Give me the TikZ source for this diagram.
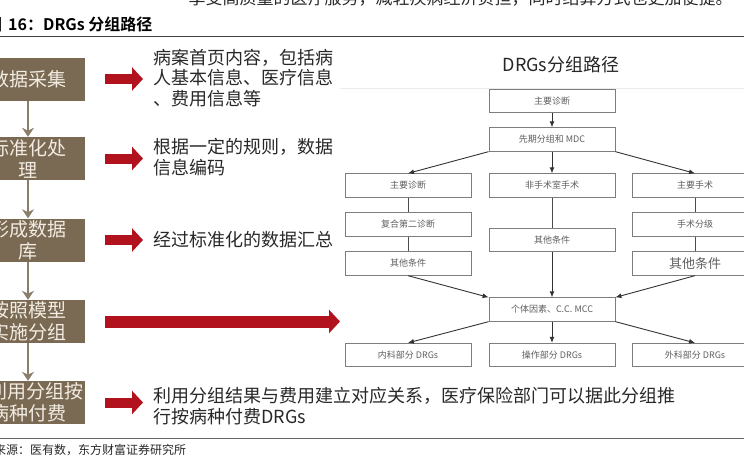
\documentclass[tikz,border=0pt]{standalone}
\usepackage{fontspec}
\usepackage{xcolor}
\usepackage{tikz}
\usetikzlibrary{arrows.meta, calc, positioning}
\newfontfamily\cjk{Noto Sans CJK SC}[BoldFont={Noto Sans CJK SC Bold}]
\definecolor{boxBrown}{RGB}{122,106,84}
\definecolor{boxText}{RGB}{242,236,226}
\definecolor{lineBrown}{RGB}{138,125,105}
\definecolor{arrowRed}{RGB}{178,18,30}
\definecolor{noteBlack}{RGB}{40,40,40}
\definecolor{drgGray}{RGB}{125,125,125}
\definecolor{drgText}{RGB}{95,95,95}

\begin{document}
\begin{tikzpicture}[
    x=1pt, y=-1pt,
    >=Stealth,
    % brown step box (left column)
    stepBox/.style={
        rectangle, fill=boxBrown, text=boxText,
        minimum width=114pt, minimum height=43pt,
        text width=80pt, align=center,
        font=\cjk\fontsize{19}{22}\selectfont, inner sep=0pt
    },
    % explanation text
    noteText/.style={
        anchor=west, align=left, text=noteBlack,
        font=\cjk\fontsize{18}{20.5}\selectfont, inner sep=0pt
    },
    % red block arrow
    redArrow/.style={
        draw=arrowRed, line width=10pt,
        -{Triangle[width=23pt, length=11pt]},
        shorten <=20pt, shorten >=10pt
    },
    % brown arrow between steps
    flowArrow/.style={
        draw=lineBrown, line width=2.6pt,
        -{Stealth[width=12pt, length=9pt]}
    },
    % boxes of the grouping chart
    drgBox/.style={
        rectangle, draw=drgGray, fill=white, line width=0.8pt,
        minimum width=126pt, minimum height=23.5pt,
        font=\cjk\fontsize{9}{10}\selectfont, text=drgText, inner sep=0pt
    },
    drgLine/.style={draw=black!70, line width=0.8pt},
    drgArrow/.style={
        draw=black!80, line width=0.9pt,
        -{Latex[width=5pt, length=6pt]}
    }
]
\useasboundingbox (0,0) rectangle (744,463);
% page text and rules
\node[anchor=base west, font=\cjk\fontsize{17}{20}\selectfont, text=noteBlack]
    (topLine) at (185,5) {享受高质量的医疗服务，减轻疾病经济负担，同时结算方式也更加便捷。};
\node[anchor=west, font=\cjk\bfseries\fontsize{16}{18}\selectfont, inner sep=0pt]
    (figTitle) at (-14,24) {图\hspace{6pt}16：DRGs 分组路径};
\draw[black!75, line width=1pt] (0,36) -- (744,36);
\draw[black!60, line width=1pt] (0,438) -- (744,438);
\node[anchor=west, font=\cjk\fontsize{12}{14}\selectfont, inner sep=0pt, text=noteBlack]
    (srcNote) at (-30,450) {资料来源：医有数，东方财富证券研究所};
% ── left column: steps ──────────────────────────────
\node[stepBox] (b1) at (28,79)    {数据采集};
\node[stepBox] (b2) at (28,158.5) {标准化处\\理};
\node[stepBox] (b3) at (28,240)   {形成数据\\库};
\node[stepBox] (b4) at (28,321.5) {按照模型\\实施分组};
\node[stepBox] (b5) at (28,402.5) {利用分组按\\病种付费};
\draw[flowArrow] (b1) -- (b2);
\draw[flowArrow] (b2) -- (b3);
\draw[flowArrow] (b3) -- (b4);
\draw[flowArrow] (b4) -- (b5);
% ── explanations ───────────────────────────────────
\node[noteText] (t1) at (153,78)
    {病案首页内容，包括病\\人基本信息、医疗信息\\、费用信息等};
\node[noteText] (t2) at (153,157) {根据一定的规则，数据\\信息编码};
\node[noteText] (t3) at (153,240) {经过标准化的数据汇总};
\node[noteText] (t5) at (153,406)
    {利用分组结果与费用建立对应关系，医疗保险部门可以据此分组推\\行按病种付费DRGs};
\coordinate (drgIn) at (340,321.5);
% ── red arrows ─────────────────────────────────────
\draw[redArrow] (b1.east) -- (b1.east -| t1.west);
\draw[redArrow] (b2.east) -- (b2.east -| t2.west);
\draw[redArrow] (b3.east) -- (b3.east -| t3.west);
\draw[redArrow, line width=12pt, shorten >=0pt] (b4.east) -- (drgIn);
\draw[redArrow] (b5.east) -- (b5.east -| t5.west);
% ── grouping chart ─────────────────────────────────
\draw[black!8, line width=0.8pt] (340,88) -- (744,88);
\node[font=\cjk\fontsize{18}{20}\selectfont, text=black!85]
    (drgTitle) at (561,65) {DRGs分组路径};
\node[drgBox] (d1)  at (552,101)   {主要诊断};
\node[drgBox] (d2)  at (552,139.5) {先期分组和 MDC};
\node[drgBox] (dL1) at (408,185.5) {主要诊断};
\node[drgBox] (dM1) at (552,185.5) {非手术室手术};
\node[drgBox] (dR1) at (695,185.5) {主要手术};
\node[drgBox] (dL2) at (408,224.5) {复合第二诊断};
\node[drgBox] (dR2) at (695,224.5) {手术分级};
\node[drgBox] (dM2) at (552,240)   {其他条件};
\node[drgBox] (dL3) at (408,263.5) {其他条件};
\node[drgBox, font=\cjk\fontsize{13}{14}\selectfont] (dR3) at (695,263.5) {其他条件};
\node[drgBox] (d3)  at (552,309.5) {个体因素、C.C.\ MCC};
\node[drgBox] (dL4) at (408,355)   {内科部分 DRGs};
\node[drgBox] (dM4) at (552,355)   {操作部分 DRGs};
\node[drgBox] (dR4) at (695,355)   {外科部分 DRGs};
% arrows of the chart
\draw[drgArrow] (d1) -- (d2);
\draw[drgArrow] (d2.south west) -- (dL1.north);
\draw[drgArrow] (d2) -- (dM1);
\draw[drgArrow] (d2.south east) -- (dR1.north);
\draw[drgLine] (dL1) -- (dL2);
\draw[drgLine] (dL2) -- (dL3);
\draw[drgLine] (dM1) -- (dM2);
\draw[drgLine] (dR1) -- (dR2);
\draw[drgLine] (dR2) -- (dR3);
\draw[drgArrow] (dL3.south) -- (d3.north west);
\draw[drgArrow] (dM2) -- (d3);
\draw[drgArrow] (dR3.south) -- (d3.north east);
\draw[drgArrow] (d3.south west) -- (dL4.north);
\draw[drgArrow] (d3) -- (dM4);
\draw[drgArrow] (d3.south east) -- (dR4.north);
\end{tikzpicture}
\end{document}
